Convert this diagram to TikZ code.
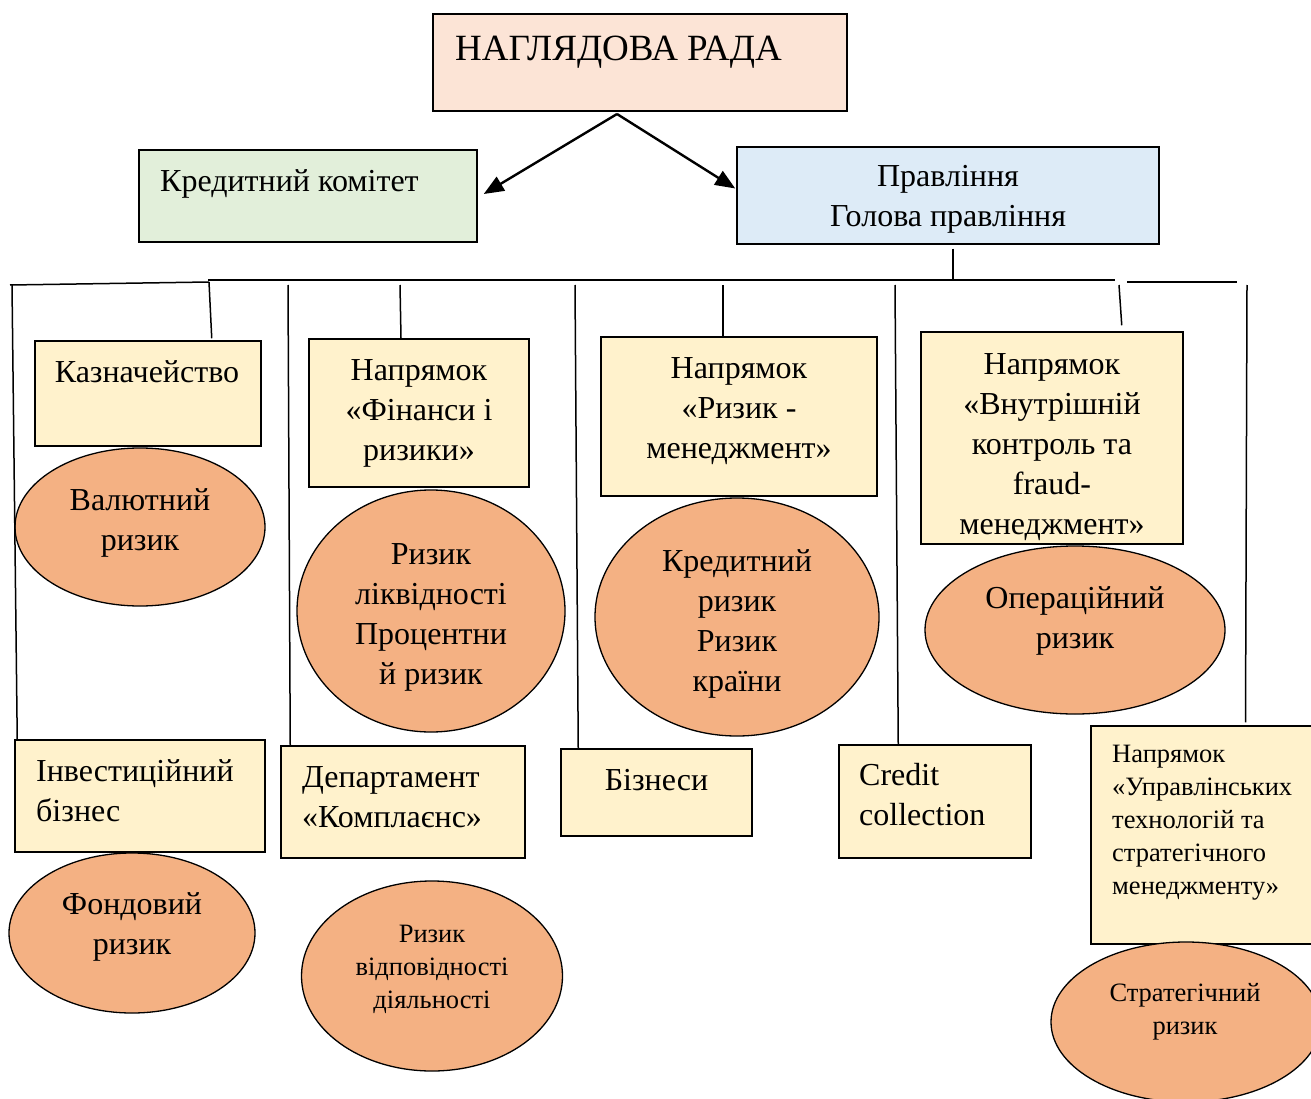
\documentclass[tikz,border=0pt]{standalone}
\usepackage{fontspec}
\setmainfont{Liberation Serif}
\usetikzlibrary{shapes.geometric,arrows.meta,calc}
\definecolor{cPeach}{RGB}{252,228,214}
\definecolor{cGreen}{RGB}{226,239,218}
\definecolor{cBlue}{RGB}{221,235,247}
\definecolor{cYellow}{RGB}{255,242,204}
\definecolor{cOrange}{RGB}{244,177,131}
\newcommand\fsbig{\fontsize{32}{40}\selectfont}
\newcommand\fssmall{\fontsize{26.5}{33}\selectfont}
\newcommand\fstitle{\fontsize{37}{40}\selectfont}
\begin{document}
\begin{tikzpicture}[x=1pt,y=-1pt,
  boxst/.style={draw=black,line width=1.5pt,rectangle,inner sep=0pt},
  ovalst/.style={draw=black,line width=1.3pt,ellipse,fill=cOrange,inner sep=0pt},
  txt/.style={inner sep=0pt,align=center,font=\fsbig},
  txtl/.style={inner sep=0pt,align=left,font=\fsbig},
  txts/.style={inner sep=0pt,align=center,font=\fssmall},
  txtsl/.style={inner sep=0pt,align=left,font=\fssmall},
  conn/.style={draw=black,line width=1.5pt},
  arr/.style={draw=black,line width=2.4pt,-{Triangle[length=20pt,width=16pt]}}]
\useasboundingbox (0,0) rectangle (1311,1099);
\clip (0,0) rectangle (1311,1099);
% top level
\node[boxst,fill=cPeach,minimum width=414pt,minimum height=97pt] (nag) at (640,62.5) {};
\node[inner sep=0pt,anchor=west,font=\fstitle] (nagT) at (455,52) {НАГЛЯДОВА РАДА};
\node[boxst,fill=cGreen,minimum width=338pt,minimum height=92pt] (kred) at (308,196) {};
\node[txt,anchor=west] (kredT) at (160,184) {Кредитний комітет};
\node[boxst,fill=cBlue,minimum width=422pt,minimum height=97pt] (prav) at (948,195.5) {};
\node[txt] (pravT) at (948,199) {Правління\\Голова правління};
\coordinate (split) at (617,114);
\draw[arr] (split) -- ([xshift=6pt,yshift=2pt]kred.east);
\draw[arr] (split) -- ([xshift=-1pt,yshift=7pt]prav.west);
% boxes second level
\node[boxst,fill=cYellow,minimum width=226pt,minimum height=105pt] (kaz) at (148,393.5) {};
\node[txt] (kazT) at (147,372) {Казначейство};
\node[boxst,fill=cYellow,minimum width=220pt,minimum height=148pt] (fin) at (419,413) {};
\node[txt] (finT) at (419,413) {Напрямок\\«Фінанси і\\ризики»};
\node[boxst,fill=cYellow,minimum width=276pt,minimum height=159pt] (rm) at (739,416.5) {};
\node[txt] (rmT) at (739,411) {Напрямок\\«Ризик -\\менеджмент»};
\node[boxst,fill=cYellow,minimum width=262pt,minimum height=212pt] (vk) at (1052,438) {};
\node[txt] (vkT) at (1052,447) {Напрямок\\«Внутрішній\\контроль та\\fraud-\\менеджмент»};
\node[boxst,fill=cYellow,minimum width=250pt,minimum height=112pt] (inv) at (140,796) {};
\node[txtl,anchor=west] (invT) at (36,791) {Інвестиційний\\бізнес};
\node[boxst,fill=cYellow,minimum width=244pt,minimum height=112pt] (dep) at (403,802) {};
\node[txtl,anchor=west] (depT) at (302,797) {Департамент\\«Комплаєнс»};
\node[boxst,fill=cYellow,minimum width=191pt,minimum height=87pt] (biz) at (656.5,792.5) {};
\node[txt] (bizT) at (656.5,780) {Бізнеси};
\node[boxst,fill=cYellow,minimum width=192pt,minimum height=113pt] (cc) at (935,801.5) {};
\node[txtl,anchor=west] (ccT) at (859,795) {Credit\\collection};
\node[boxst,fill=cYellow,minimum width=225pt,minimum height=218pt] (upr) at (1203.5,835) {};
\node[txtsl,anchor=west] (uprT) at (1112,823) {Напрямок\\«Управлінських\\технологій та\\стратегічного\\менеджменту»};
% risks
\node[ovalst,minimum width=250pt,minimum height=158pt] (val) at (140,527) {};
\node[txt] (valT) at (140,523) {Валютний\\ризик};
\node[ovalst,minimum width=268pt,minimum height=242pt] (liq) at (431,611) {};
\node[txt] (liqT) at (431,617) {Ризик\\ліквідності\\Процентни\\й ризик};
\node[ovalst,minimum width=284pt,minimum height=238pt] (kr) at (737,617) {};
\node[txt] (krT) at (737,624) {Кредитний\\ризик\\Ризик\\країни};
\node[ovalst,minimum width=300pt,minimum height=168pt] (op) at (1075,630) {};
\node[txt] (opT) at (1075,621) {Операційний\\ризик};
\node[ovalst,minimum width=246pt,minimum height=160pt] (fond) at (132,933) {};
\node[txt] (fondT) at (132,927) {Фондовий\\ризик};
\node[ovalst,minimum width=261pt,minimum height=190pt] (vidp) at (432,976) {};
\node[txts] (vidpT) at (432,969) {Ризик\\відповідності\\діяльності};
\node[ovalst,minimum width=270pt,minimum height=160pt] (strat) at (1186,1022) {};
\node[txts] (stratT) at (1185,1012) {Стратегічний\\ризик};
% bus lines
\coordinate (bt) at (953,280);
\coordinate (bL) at (208,280);
\coordinate (bR) at (1115,280);
\coordinate (lL) at (10,285);
\coordinate (bK) at (209,282);
\coordinate (rL) at (1127,282);
\coordinate (rR) at (1237,282);
\draw[conn] ([yshift=-4pt]prav.south -| bt) -- (bt);
\draw[conn] (bL) -- (bR);
\draw[conn] (lL) -- (bK);
\draw[conn] (rL) -- (rR);
\draw[conn] (bK) -- ([xshift=-50pt,yshift=2pt]kaz.north east);
\coordinate (tInv) at (12,285);
\draw[conn] (tInv) -- ([xshift=3pt]inv.north west);
\coordinate (tDep) at (288,285);
\draw[conn] (tDep) -- ([xshift=10pt]dep.north west);
\coordinate (tFin) at (400,285);
\draw[conn] (tFin) -- ([xshift=-18pt]fin.north);
\coordinate (tBiz) at (575,285);
\draw[conn] (tBiz) -- ([xshift=18pt]biz.north west);
\coordinate (tRm) at (723,285);
\draw[conn] (tRm) -- ([xshift=-16pt]rm.north);
\coordinate (tCc) at (895,285);
\draw[conn] (tCc) -- ([xshift=60pt]cc.north west);
\coordinate (tVk) at (1119,285);
\draw[conn] (tVk) -- ([xshift=-62pt,yshift=6pt]vk.north east);
\coordinate (tUpr) at (1247,285);
\draw[conn] (tUpr) -- ([xshift=42pt,yshift=3pt]upr.north);
\end{tikzpicture}
\end{document}
